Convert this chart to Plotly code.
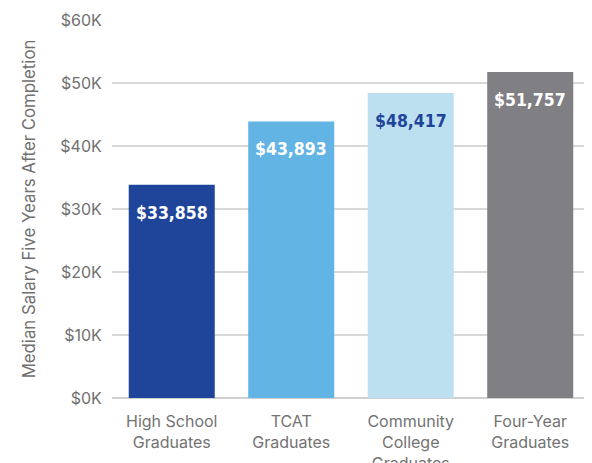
import plotly.graph_objects as go

categories = ["High School<br>Graduates", "TCAT<br>Graduates",
              "Community<br>College<br>Graduates", "Four-Year<br>Graduates"]
salaries = [33858, 43893, 48417, 51757]
bar_colors = ["#1f459b", "#62b4e4", "#bce0f0", "#808084"]
label_colors = ["#ffffff", "#ffffff", "#1f459b", "#ffffff"]
tick_vals = [0, 10000, 20000, 30000, 40000, 50000, 60000]
tick_text = ["$0K", "$10K", "$20K", "$30K", "$40K", "$50K", "$60K"]

fig = go.Figure(go.Bar(
    x=categories, y=salaries, marker=dict(color=bar_colors, line=dict(width=0)),
    width=0.72, hoverinfo="skip",
))

for cat, val, col in zip(categories, salaries, label_colors):
    fig.add_annotation(
        x=cat, y=val, text=f"${val:,}", showarrow=False, yanchor="middle", yshift=-28,
        font=dict(family="DejaVu Sans Condensed, Roboto", size=17.5, color=col, weight="bold"),
    )

# page body has an 8px margin, so margins are offset to land the plot area correctly
fig.update_layout(
    width=592, height=463, plot_bgcolor="white", paper_bgcolor="white",
    margin=dict(l=104, r=8, t=12, b=73, autoexpand=False), showlegend=False,
    font=dict(family="Inter, Roboto, Arial", color="#707070"),
    xaxis=dict(range=[-0.5, 3.517], showgrid=False, showline=False, zeroline=False,
               automargin=False, ticks="outside", ticklen=9, tickcolor="rgba(0,0,0,0)",
               tickfont=dict(size=16, color="#737373")),
    yaxis=dict(range=[0, 60000], tickvals=tick_vals, ticktext=tick_text,
               tickfont=dict(size=16, color="#707070"), automargin=False,
               showgrid=True, gridcolor="#d9d9d9", gridwidth=1.5,
               zeroline=True, zerolinecolor="#d0d0d0", zerolinewidth=2,
               ticks="outside", ticklen=6, tickcolor="rgba(0,0,0,0)",
               title=dict(text="Median Salary Five Years After Completion",
                          font=dict(size=16.8, color="#707070"), standoff=20)),
)

fig.write_html("out.html")
